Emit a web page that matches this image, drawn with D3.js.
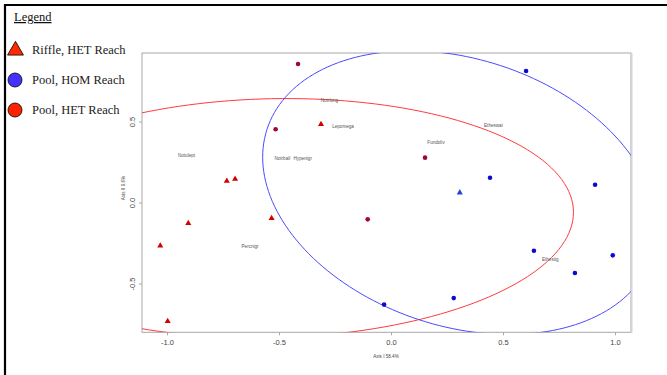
<!DOCTYPE html>
<html>
<head>
<meta charset="utf-8">
<script src="https://cdn.jsdelivr.net/npm/d3@7"></script>
<style>
  html, body { margin: 0; padding: 0; background: #fff; }
  svg { display: block; }
</style>
</head>
<body>
<svg id="chart" width="667" height="375"></svg>
<script>
// Ordination scores (Axis I, Axis II)
const riffleHetX = [-0.733, -0.696, -0.3125, -1.030, -0.905, -0.997];
const riffleHetY = [0.133, 0.145, 0.483, -0.267, -0.128, -0.733];

const poolHomX = [0.603, 0.442, 0.911, 0.638, 0.990, 0.821, 0.280, -0.031];
const poolHomY = [0.812, 0.153, 0.110, -0.298, -0.326, -0.435, -0.590, -0.630];

const poolHetX = [-0.415, -0.515, 0.152, -0.104];
const poolHetY = [0.855, 0.452, 0.277, -0.104];

// Species scores
const speciesNames = ["Notulept", "Notrbail", "Hypenigr", "Notrlong", "Lepomega", "Fundoliv", "Etheswai", "Percnigr", "Ethestig"];
const speciesX = [-0.913, -0.485, -0.394, -0.275, -0.214, 0.201, 0.457, -0.629, 0.711];
const speciesY = [0.289, 0.270, 0.270, 0.633, 0.471, 0.373, 0.474, -0.268, -0.349];

// Group ellipses: centroid and covariance [xx, xy, yy]
const ellipseNames = ["HET", "HOM"];
const ellipseCenterX = [-0.533, 0.307];
const ellipseCenterY = [-0.097, 0.061];
const ellipseCov = [[1.816, 0.0493, 0.5456], [0.7742, -0.1926, 0.7666]];
const ellipseColors = ["#ff3b3b", "#4a4aff"];

// Axes
const xDomain = [-1.1116, 1.0714];
const yDomain = [-0.801, 0.9228];
const xTicks = [-1.0, -0.5, 0.0, 0.5, 1.0];
const xTickLabels = ["-1.0", "-0.5", "0.0", "0.5", "1.0"];
const yTicks = [-0.5, 0.0, 0.5];
const yTickLabels = ["-0.5", "0.0", "0.5"];
const xTitle = "Axis I 58.4%";
const yTitle = "Axis II 9.6%";

// Legend
const legendLabels = ["Riffle, HET Reach", "Pool, HOM Reach", "Pool, HET Reach"];
const legendShapes = ["triangle", "circle", "circle"];
const legendColors = ["#ff2a00", "#4433ff", "#ff2200"];

const svg = d3.select("#chart");
const plot = { left: 142, right: 631, top: 53, bottom: 332.3 };

const x = d3.scaleLinear().domain(xDomain).range([plot.left, plot.right]);
const y = d3.scaleLinear().domain(yDomain).range([plot.bottom, plot.top]);

// Outer frame (top and left rules)
svg.append("line").attr("x1", 4).attr("x2", 667).attr("y1", 5).attr("y2", 5)
  .attr("stroke", "#000").attr("stroke-width", 2.2);
svg.append("line").attr("x1", 5).attr("x2", 5).attr("y1", 4).attr("y2", 375)
  .attr("stroke", "#000").attr("stroke-width", 2.2);

// Clip region for the plotting panel
svg.append("defs").append("clipPath").attr("id", "panel")
  .append("rect").attr("x", plot.left).attr("y", plot.top)
  .attr("width", plot.right - plot.left).attr("height", plot.bottom - plot.top);

// Panel box
svg.append("rect").attr("x", plot.left).attr("y", plot.top)
  .attr("width", plot.right - plot.left).attr("height", plot.bottom - plot.top)
  .attr("fill", "none").attr("stroke", "#a8a8a8").attr("stroke-width", 1);
svg.append("line").attr("x1", plot.right + 0.5).attr("x2", plot.right + 0.5)
  .attr("y1", plot.top).attr("y2", plot.bottom + 0.5)
  .attr("stroke", "#d4d4d4").attr("stroke-width", 2);

// Axes
const xAxis = d3.axisBottom(x).tickValues(xTicks)
  .tickFormat((d, i) => xTickLabels[i]).tickSize(3).tickSizeOuter(0);
const gx = svg.append("g").attr("transform", `translate(0,${plot.bottom})`).call(xAxis);
gx.select(".domain").remove();
gx.selectAll(".tick line").attr("stroke", "#a8a8a8");
gx.selectAll(".tick text").attr("fill", "#444").attr("font-size", 7.5)
  .attr("font-family", "Liberation Sans, Arial, sans-serif").attr("dy", "0.9em");

const yAxis = d3.axisLeft(y).tickValues(yTicks)
  .tickFormat((d, i) => yTickLabels[i]).tickSize(3).tickSizeOuter(0);
const gy = svg.append("g").attr("transform", `translate(${plot.left},0)`).call(yAxis);
gy.select(".domain").remove();
gy.selectAll(".tick line").attr("stroke", "#a8a8a8");
gy.selectAll(".tick text").attr("fill", "#444").attr("font-size", 7.5)
  .attr("font-family", "Liberation Sans, Arial, sans-serif")
  .attr("x", 0).attr("dy", 0)
  .attr("text-anchor", "middle")
  .attr("transform", "translate(-7,0) rotate(-90)");

// Axis titles
svg.append("text").attr("x", 386).attr("y", 357.5).attr("text-anchor", "middle")
  .attr("font-size", 4.6).attr("fill", "#444")
  .attr("font-family", "Liberation Sans, Arial, sans-serif").text(xTitle);
svg.append("text").attr("transform", "translate(125,188) rotate(-90)")
  .attr("text-anchor", "middle").attr("font-size", 4.6).attr("fill", "#444")
  .attr("font-family", "Liberation Sans, Arial, sans-serif").text(yTitle);

const panel = svg.append("g").attr("clip-path", "url(#panel)");

// Ellipses from centroid and covariance
const line = d3.line().x(d => x(d[0])).y(d => y(d[1])).curve(d3.curveLinearClosed);
ellipseNames.forEach((name, k) => {
  const [sxx, sxy, syy] = ellipseCov[k];
  const l11 = Math.sqrt(sxx), l21 = sxy / l11, l22 = Math.sqrt(syy - l21 * l21);
  const pts = d3.range(0, 2 * Math.PI, Math.PI / 90).map(t => {
    const c = Math.cos(t), s = Math.sin(t);
    return [ellipseCenterX[k] + l11 * c, ellipseCenterY[k] + l21 * c + l22 * s];
  });
  panel.append("path").datum(pts).attr("d", line)
    .attr("fill", "none").attr("stroke", ellipseColors[k]).attr("stroke-width", 1);
});

// Species labels
panel.selectAll("text.sp").data(speciesNames).join("text").attr("class", "sp")
  .attr("x", (d, i) => x(speciesX[i])).attr("y", (d, i) => y(speciesY[i]))
  .attr("dy", "0.35em").attr("text-anchor", "middle")
  .attr("font-size", 4.6).attr("fill", "#555")
  .attr("font-family", "Liberation Sans, Arial, sans-serif").text(d => d);

const tri = d3.symbol().type(d3.symbolTriangle).size(16);

// Riffle samples
panel.selectAll("path.riffle").data(riffleHetX).join("path").attr("class", "riffle")
  .attr("d", tri)
  .attr("transform", (d, i) => `translate(${x(d)},${y(riffleHetY[i])})`)
  .attr("fill", "#d40000");

// Group centroids
panel.selectAll("path.cent").data(ellipseNames).join("path").attr("class", "cent")
  .attr("d", tri)
  .attr("transform", (d, i) => `translate(${x(ellipseCenterX[i])},${y(ellipseCenterY[i])})`)
  .attr("fill", (d, i) => i === 0 ? "#d40000" : "#2244dd");

// Pool samples
panel.selectAll("circle.hom").data(poolHomX).join("circle").attr("class", "hom")
  .attr("cx", d => x(d)).attr("cy", (d, i) => y(poolHomY[i])).attr("r", 2.3)
  .attr("fill", "#0a0ad0");
panel.selectAll("circle.het").data(poolHetX).join("circle").attr("class", "het")
  .attr("cx", d => x(d)).attr("cy", (d, i) => y(poolHetY[i])).attr("r", 2.3)
  .attr("fill", "#a0063a");

// Legend
svg.append("text").attr("x", 14).attr("y", 21).attr("font-size", 12.5)
  .attr("font-family", "Liberation Serif, Times New Roman, serif").attr("fill", "#111")
  .attr("text-decoration", "underline").text("Legend");

const lg = svg.append("g");
legendLabels.forEach((lab, i) => {
  const cy = 50 + i * 30;
  if (legendShapes[i] === "triangle") {
    lg.append("path").attr("d", d3.symbol().type(d3.symbolTriangle).size(110)())
      .attr("transform", `translate(15.5,${cy + 0.5})`)
      .attr("fill", legendColors[i]).attr("stroke", "#000").attr("stroke-width", 0.8);
  } else {
    lg.append("circle").attr("cx", 15).attr("cy", cy).attr("r", 7)
      .attr("fill", legendColors[i]).attr("stroke", "#000").attr("stroke-width", 0.8);
  }
  lg.append("text").attr("x", 32).attr("y", cy + 4.3).attr("font-size", 12.5)
    .attr("font-family", "Liberation Serif, Times New Roman, serif").attr("fill", "#222")
    .text(lab);
});
</script>
</body>
</html>
